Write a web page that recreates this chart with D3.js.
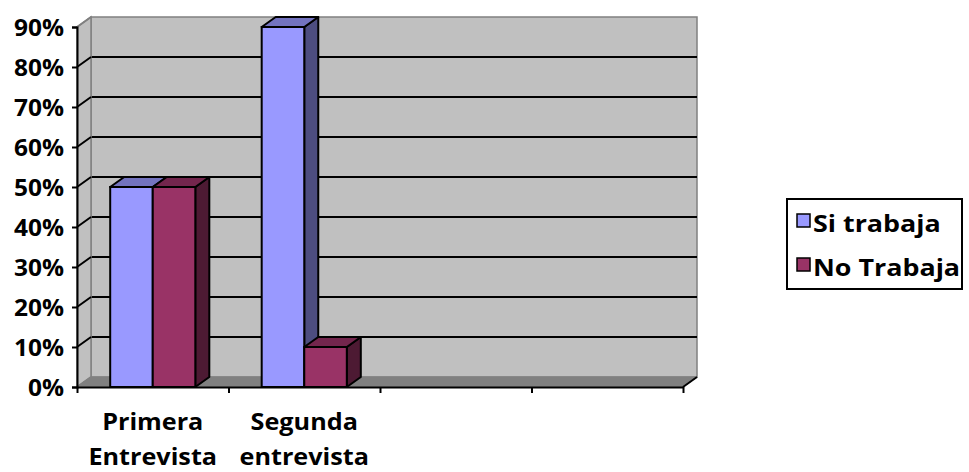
<!DOCTYPE html>
<html>
<head>
<meta charset="utf-8">
<script src="https://cdn.jsdelivr.net/npm/d3@7"></script>
<style>
  html, body { margin: 0; padding: 0; background: #fff; }
  svg { display: block; }
  text { font-family: "Open Sans", Lato, sans-serif; font-weight: 700; fill: #000; }
</style>
</head>
<body>
<svg id="chart" width="969" height="472"></svg>
<script>
// Categories along the x axis (the last two slots are empty)
const categories = ["Primera\nEntrevista", "Segunda\nentrevista", "", " "];
// Series
const seriesNames = ["Si trabaja", "No Trabaja"];
const siTrabaja = [0.50, 0.90, null, null];
const noTrabaja = [0.50, 0.10, null, null];
const yTicks = [0, 0.1, 0.2, 0.3, 0.4, 0.5, 0.6, 0.7, 0.8, 0.9];

const colors = {
  "Si trabaja": { front: "#9999FF", top: "#7373BF", side: "#4D4D80" },
  "No Trabaja": { front: "#993366", top: "#73264D", side: "#4D1A33" }
};

const svg = d3.select("#chart");
const fontSize = "24px";
// horizontal stretch of label text about an anchor x
const stretchAt = (ax, k) => `translate(${ax},0) scale(${k},1) translate(${-ax},0)`;

// Plot frame: front face and depth offset of the 3D box
const pLeft = 77, pRight = 683, pBottom = 387, pTop = 27;
const dx = 14, dy = -10;

const y = d3.scaleLinear().domain([0, 0.9]).range([pBottom, pTop]);
const x0 = d3.scaleBand().domain(categories).range([pLeft, pRight]).padding(0);
const x1 = d3.scaleBand().domain(seriesNames).range([0, x0.bandwidth()])
  .paddingInner(0).paddingOuter(0.78);

const g = svg.append("g");

// Back wall
g.append("rect")
  .attr("x", pLeft + dx).attr("y", pTop + dy)
  .attr("width", pRight - pLeft).attr("height", pBottom - pTop)
  .attr("fill", "#C0C0C0").attr("stroke", "#808080").attr("stroke-width", 1.5);

// Gridlines on the back wall
g.selectAll(".grid").data(yTicks.filter(v => v > 0 && v < 0.9)).join("line")
  .attr("x1", pLeft + dx).attr("x2", pRight + dx)
  .attr("y1", d => y(d) + dy).attr("y2", d => y(d) + dy)
  .attr("stroke", "#000").attr("stroke-width", 2);

// Left side wall
g.append("polygon")
  .attr("points", [[pLeft, pTop], [pLeft + dx, pTop + dy], [pLeft + dx, pBottom + dy], [pLeft, pBottom]].join(" "))
  .attr("fill", "#C0C0C0").attr("stroke", "#808080").attr("stroke-width", 1.5);

g.selectAll(".wallgrid").data(yTicks).join("line")
  .attr("x1", pLeft).attr("y1", d => y(d))
  .attr("x2", pLeft + dx).attr("y2", d => y(d) + dy)
  .attr("stroke", d => (d > 0 && d < 0.9) ? "#000" : "#808080")
  .attr("stroke-width", 2);

// Floor
g.append("polygon")
  .attr("points", [[pLeft, pBottom], [pRight, pBottom], [pRight + dx, pBottom + dy], [pLeft + dx, pBottom + dy]].join(" "))
  .attr("fill", "#808080").attr("stroke", "#808080").attr("stroke-width", 1);
g.append("line")
  .attr("x1", pRight).attr("y1", pBottom).attr("x2", pRight + dx).attr("y2", pBottom + dy)
  .attr("stroke", "#000").attr("stroke-width", 2);

// Bars
const bars = [];
categories.forEach((c, i) => {
  [siTrabaja, noTrabaja].forEach((vals, s) => {
    if (vals[i] != null) bars.push({ cat: c, name: seriesNames[s], value: vals[i] });
  });
});
bars.sort((a, b) => (x0(a.cat) + x1(a.name)) - (x0(b.cat) + x1(b.name)));

const barG = g.selectAll(".bar").data(bars).join("g");
barG.each(function (d) {
  const sel = d3.select(this);
  const bx = x0(d.cat) + x1(d.name), bw = x1.bandwidth();
  const yv = y(d.value), y0 = y(0);
  const c = colors[d.name];
  sel.append("polygon")
    .attr("points", [[bx + bw, yv], [bx + bw + dx, yv + dy], [bx + bw + dx, y0 + dy], [bx + bw, y0]].join(" "))
    .attr("fill", c.side).attr("stroke", "#000").attr("stroke-width", 2).attr("stroke-linejoin", "round");
  sel.append("polygon")
    .attr("points", [[bx, yv], [bx + dx, yv + dy], [bx + bw + dx, yv + dy], [bx + bw, yv]].join(" "))
    .attr("fill", c.top).attr("stroke", "#000").attr("stroke-width", 2).attr("stroke-linejoin", "round");
  sel.append("rect")
    .attr("x", bx).attr("y", yv).attr("width", bw).attr("height", y0 - yv)
    .attr("fill", c.front).attr("stroke", "#000").attr("stroke-width", 2);
});

// Y axis
const yAxis = g.append("g").attr("transform", `translate(${pLeft},0)`)
  .call(d3.axisLeft(y).tickValues(yTicks).tickFormat(d3.format(".0%")).tickSize(5).tickPadding(8));
yAxis.select(".domain").attr("stroke", "#000").attr("stroke-width", 2);
yAxis.selectAll(".tick line").attr("stroke", "#000").attr("stroke-width", 2);
yAxis.selectAll(".tick text")
  .style("font-family", "'Open Sans', sans-serif").style("font-weight", 700)
  .style("font-size", fontSize).attr("fill", "#000").attr("dy", "0.36em")
  .attr("transform", stretchAt(-13, 1.02));

// X axis: line with ticks at category boundaries
const xEdges = d3.scaleLinear().domain([0, categories.length]).range([pLeft, pRight]);
const xAxis = g.append("g").attr("transform", `translate(0,${pBottom})`)
  .call(d3.axisBottom(xEdges).tickValues(d3.range(categories.length + 1)).tickFormat("").tickSize(6).tickSizeOuter(0));
xAxis.select(".domain").attr("stroke", "#000").attr("stroke-width", 2);
xAxis.selectAll(".tick line").attr("stroke", "#000").attr("stroke-width", 2);

// Category labels
const labelG = g.selectAll(".xlabel").data(categories.filter(c => c.trim())).join("text")
  .attr("text-anchor", "middle")
  .attr("x", d => x0(d) + x0.bandwidth() / 2)
  .attr("transform", d => stretchAt(x0(d) + x0.bandwidth() / 2, 1.05))
  .style("font-size", fontSize);
labelG.selectAll("tspan").data(d => d.split("\n")).join("tspan")
  .attr("x", function () { return d3.select(this.parentNode).attr("x"); })
  .attr("y", (d, i) => 430 + i * 35)
  .text(d => d);

// Legend
const legend = svg.append("g");
legend.append("rect")
  .attr("x", 787).attr("y", 199).attr("width", 175).attr("height", 90)
  .attr("fill", "#fff").attr("stroke", "#000").attr("stroke-width", 2);
const items = legend.selectAll(".item").data(seriesNames).join("g")
  .attr("transform", (d, i) => `translate(797,${214 + i * 44})`);
items.append("rect")
  .attr("width", 13).attr("height", 13)
  .attr("fill", d => colors[d].front).attr("stroke", "#000").attr("stroke-width", 1.5);
items.append("text")
  .attr("x", 16).attr("y", 18)
  .attr("transform", stretchAt(16, 1.12))
  .style("font-size", fontSize)
  .text(d => d);
</script>
</body>
</html>
